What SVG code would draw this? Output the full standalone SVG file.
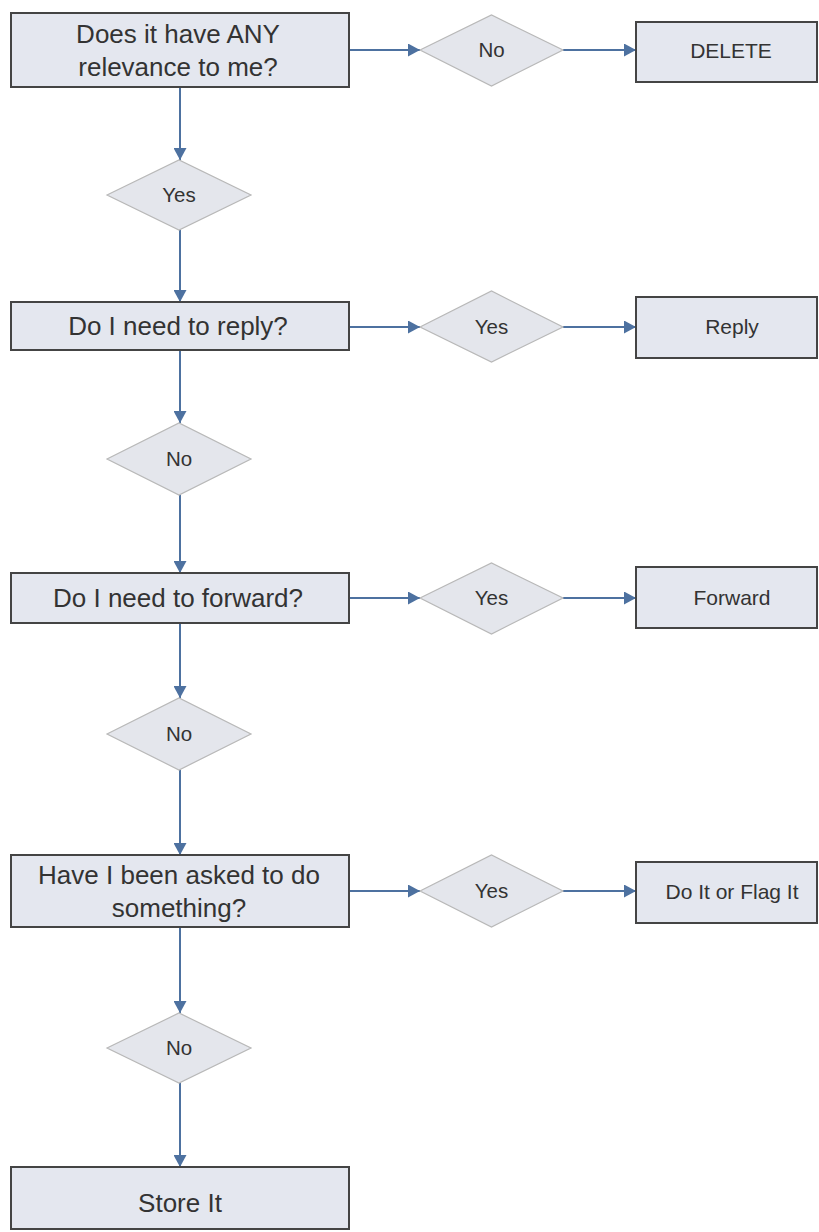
<svg xmlns="http://www.w3.org/2000/svg" width="819" height="1232" viewBox="0 0 819 1232">
  <defs>
    <marker id="arr" markerUnits="userSpaceOnUse" markerWidth="13" markerHeight="13" refX="12" refY="6.5" orient="auto">
      <path d="M0,0 L12,6.5 L0,13 z" fill="#4d71a0"/>
    </marker>
    <style>
      .box { fill: #e4e7ef; stroke: #444; stroke-width: 2; }
      .dia { fill: #e4e6ec; stroke: #b8b8b8; stroke-width: 1.2; }
      .t { font-family: "Liberation Sans", Arial, sans-serif; fill: #333; text-anchor: middle; }
      .big { font-size: 26px; }
      .mid { font-size: 21px; }
      .sm { font-size: 20.5px; }
      .c line { stroke: #4d71a0; stroke-width: 2; marker-end: url(#arr); }
    </style>
  </defs>
  <rect width="819" height="1232" fill="#fff"/>

  <g class="c" id="connectors">
    <line x1="180" y1="87" x2="180" y2="160"/>
    <line x1="180" y1="230" x2="180" y2="302"/>
    <line x1="180" y1="350" x2="180" y2="423"/>
    <line x1="180" y1="495" x2="180" y2="573"/>
    <line x1="180" y1="623" x2="180" y2="698"/>
    <line x1="180" y1="770" x2="180" y2="855"/>
    <line x1="180" y1="927" x2="180" y2="1013"/>
    <line x1="180" y1="1083" x2="180" y2="1167"/>
    <line x1="349" y1="50" x2="420" y2="50"/>
    <line x1="563" y1="50" x2="636" y2="50"/>
    <line x1="349" y1="327" x2="420" y2="327"/>
    <line x1="563" y1="327" x2="636" y2="327"/>
    <line x1="349" y1="598" x2="420" y2="598"/>
    <line x1="563" y1="598" x2="636" y2="598"/>
    <line x1="349" y1="891" x2="420" y2="891"/>
    <line x1="563" y1="891" x2="636" y2="891"/>
  </g>

  <g id="q1">
    <rect class="box" x="11" y="13" width="338" height="74"/>
    <text class="t big" x="178" y="43">Does it have ANY</text>
    <text class="t big" x="178" y="76">relevance to me?</text>
  </g>
  <g id="d1no">
    <polygon class="dia" points="420,50 491.5,15 563,50 491.5,86"/>
    <text class="t sm" x="491.5" y="57">No</text>
  </g>
  <g id="delete">
    <rect class="box" x="636" y="22" width="181" height="60"/>
    <text class="t mid" x="731" y="58">DELETE</text>
  </g>
  <g id="d1yes">
    <polygon class="dia" points="107,195 179,160 251,195 179,230"/>
    <text class="t sm" x="179" y="202">Yes</text>
  </g>

  <g id="q2">
    <rect class="box" x="11" y="302" width="338" height="48"/>
    <text class="t big" x="178" y="335">Do I need to reply?</text>
  </g>
  <g id="d2yes">
    <polygon class="dia" points="420,327 491.5,291 563,327 491.5,362"/>
    <text class="t sm" x="491.5" y="334">Yes</text>
  </g>
  <g id="reply">
    <rect class="box" x="636" y="297" width="181" height="61"/>
    <text class="t mid" x="732" y="334">Reply</text>
  </g>
  <g id="d2no">
    <polygon class="dia" points="107,459 179,423 251,459 179,495"/>
    <text class="t sm" x="179" y="466">No</text>
  </g>

  <g id="q3">
    <rect class="box" x="11" y="573" width="338" height="50"/>
    <text class="t big" x="178" y="607">Do I need to forward?</text>
  </g>
  <g id="d3yes">
    <polygon class="dia" points="420,598 491.5,563 563,598 491.5,634"/>
    <text class="t sm" x="491.5" y="605">Yes</text>
  </g>
  <g id="forward">
    <rect class="box" x="636" y="567" width="181" height="61"/>
    <text class="t mid" x="732" y="605">Forward</text>
  </g>
  <g id="d3no">
    <polygon class="dia" points="107,734 179,698 251,734 179,770"/>
    <text class="t sm" x="179" y="741">No</text>
  </g>

  <g id="q4">
    <rect class="box" x="11" y="855" width="338" height="72"/>
    <text class="t big" x="179" y="884">Have I been asked to do</text>
    <text class="t big" x="179" y="917">something?</text>
  </g>
  <g id="d4yes">
    <polygon class="dia" points="420,891 491.5,855 563,891 491.5,927"/>
    <text class="t sm" x="491.5" y="898">Yes</text>
  </g>
  <g id="doit">
    <rect class="box" x="636" y="862" width="181" height="61"/>
    <text class="t mid" x="732" y="899">Do It or Flag It</text>
  </g>
  <g id="d4no">
    <polygon class="dia" points="107,1048 179,1013 251,1048 179,1083"/>
    <text class="t sm" x="179" y="1055">No</text>
  </g>

  <g id="store">
    <rect class="box" x="11" y="1167" width="338" height="62"/>
    <text class="t big" x="180" y="1212">Store It</text>
  </g>
</svg>
